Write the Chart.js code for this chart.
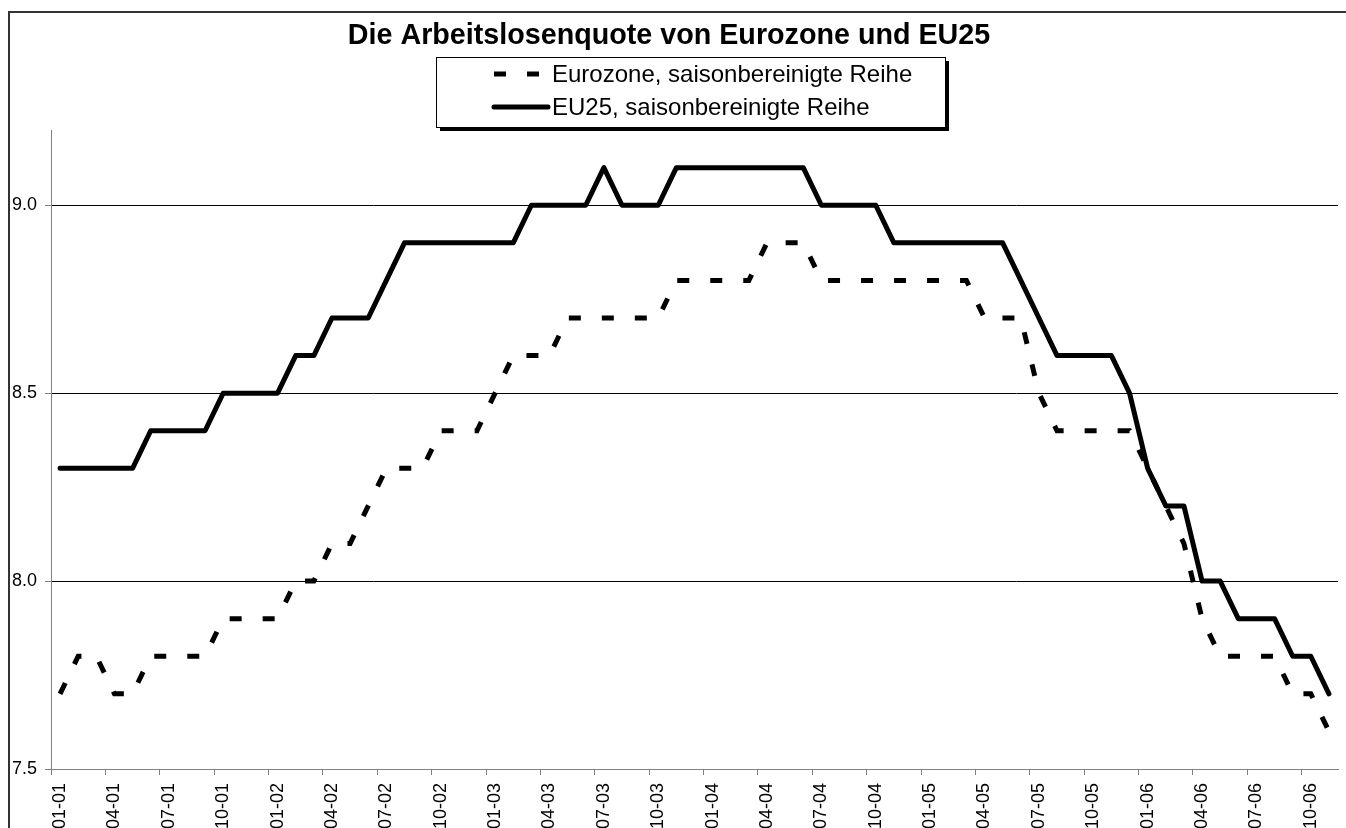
<!DOCTYPE html>
<html>
<head>
<meta charset="utf-8">
<title>Arbeitslosenquote Eurozone / EU25</title>
<script src="https://cdn.jsdelivr.net/npm/chart.js@4.4.0/dist/chart.umd.min.js"></script>
<style>
  html, body { margin: 0; padding: 0; background: #fff; }
  #chart { display: block; }
</style>
</head>
<body>
<canvas id="chart" width="1346" height="828"></canvas>
<script>
const months = [
  '01-01', '02-01', '03-01', '04-01', '05-01', '06-01', '07-01', '08-01', '09-01', '10-01', '11-01', '12-01',
  '01-02', '02-02', '03-02', '04-02', '05-02', '06-02', '07-02', '08-02', '09-02', '10-02', '11-02', '12-02',
  '01-03', '02-03', '03-03', '04-03', '05-03', '06-03', '07-03', '08-03', '09-03', '10-03', '11-03', '12-03',
  '01-04', '02-04', '03-04', '04-04', '05-04', '06-04', '07-04', '08-04', '09-04', '10-04', '11-04', '12-04',
  '01-05', '02-05', '03-05', '04-05', '05-05', '06-05', '07-05', '08-05', '09-05', '10-05', '11-05', '12-05',
  '01-06', '02-06', '03-06', '04-06', '05-06', '06-06', '07-06', '08-06', '09-06', '10-06', '11-06'
];

const eurozone = [
  7.7, 7.8, 7.8, 7.7, 7.7, 7.8, 7.8, 7.8, 7.8, 7.9,
  7.9, 7.9, 7.9, 8.0, 8.0, 8.1, 8.1, 8.2, 8.3, 8.3,
  8.3, 8.4, 8.4, 8.4, 8.5, 8.6, 8.6, 8.6, 8.7, 8.7,
  8.7, 8.7, 8.7, 8.7, 8.8, 8.8, 8.8, 8.8, 8.8, 8.9,
  8.9, 8.9, 8.8, 8.8, 8.8, 8.8, 8.8, 8.8, 8.8, 8.8,
  8.8, 8.7, 8.7, 8.7, 8.5, 8.4, 8.4, 8.4, 8.4, 8.4,
  8.3, 8.2, 8.1, 7.9, 7.8, 7.8, 7.8, 7.8, 7.7, 7.7, 7.6
];

const eu25 = [
  8.3, 8.3, 8.3, 8.3, 8.3, 8.4, 8.4, 8.4, 8.4, 8.5,
  8.5, 8.5, 8.5, 8.6, 8.6, 8.7, 8.7, 8.7, 8.8, 8.9,
  8.9, 8.9, 8.9, 8.9, 8.9, 8.9, 9.0, 9.0, 9.0, 9.0,
  9.1, 9.0, 9.0, 9.0, 9.1, 9.1, 9.1, 9.1, 9.1, 9.1,
  9.1, 9.1, 9.0, 9.0, 9.0, 9.0, 8.9, 8.9, 8.9, 8.9,
  8.9, 8.9, 8.9, 8.8, 8.7, 8.6, 8.6, 8.6, 8.6, 8.5,
  8.3, 8.2, 8.2, 8.0, 8.0, 7.9, 7.9, 7.9, 7.8, 7.8, 7.7
];

const seriesNames = ['Eurozone, saisonbereinigte Reihe', 'EU25, saisonbereinigte Reihe'];
const chartTitle = 'Die Arbeitslosenquote von Eurozone und EU25';
const yTicks = [7.5, 8.0, 8.5, 9.0];

const FONT = "'Liberation Sans', Arial, Helvetica, sans-serif";
const AXIS_GREY = '#808080';

// white background + the outer frame (only its top/left edges are inside the picture)
const framePlugin = {
    id: 'frame',
    beforeDraw: chart => {
        let ctx = chart.ctx;
        ctx.save();
        ctx.fillStyle = '#fff';
        ctx.fillRect(0, 0, chart.width, chart.height);
        ctx.strokeStyle = '#333';
        ctx.lineWidth = 2;
        ctx.strokeRect(9, 12, chart.width + 20, chart.height + 20);
        ctx.restore();
    }
};

// excel-like legend: bordered box with a drop shadow, one series per row
const boxLegend = {
    id: 'boxLegend',
    afterDraw: (chart, args, opts) => {
        let ctx = chart.ctx;
        ctx.save();
        ctx.fillStyle = '#000';
        ctx.fillRect(opts.left + 4, opts.top + 4, opts.width, opts.height);
        ctx.fillStyle = '#fff';
        ctx.fillRect(opts.left, opts.top, opts.width, opts.height);
        ctx.strokeStyle = '#000';
        ctx.lineWidth = 1;
        ctx.strokeRect(opts.left + 0.5, opts.top + 0.5, opts.width, opts.height);

        chart.data.datasets.forEach((ds, i) => {
            let y = opts.top + opts.firstRow + i * opts.rowGap;
            ctx.beginPath();
            ctx.setLineDash(ds.borderDash || []);
            ctx.lineCap = ds.borderCapStyle || 'butt';
            ctx.lineWidth = ds.borderWidth;
            ctx.strokeStyle = ds.borderColor;
            ctx.moveTo(opts.sampleX, y);
            ctx.lineTo(opts.sampleX + opts.sampleW, y);
            ctx.stroke();
            ctx.setLineDash([]);
            ctx.fillStyle = '#000';
            ctx.font = `${opts.fontSize}px ${FONT}`;
            ctx.textBaseline = 'middle';
            ctx.textAlign = 'left';
            ctx.fillText(ds.label, opts.textX, y + 1);
        });
        ctx.restore();
    }
};

const chart = new Chart(document.getElementById('chart'), {
    type: 'line',
    data: {
        labels: months,
        datasets: [{
            label: seriesNames[0],
            data: eurozone,
            borderColor: '#000',
            borderWidth: 5,
            borderDash: [12, 21],
            borderCapStyle: 'butt',
            borderJoinStyle: 'miter',
            pointRadius: 0,
            tension: 0,
            fill: false
        }, {
            label: seriesNames[1],
            data: eu25,
            borderColor: '#000',
            borderWidth: 5,
            borderCapStyle: 'round',
            borderJoinStyle: 'round',
            pointRadius: 0,
            tension: 0,
            fill: false
        }]
    },
    options: {
        responsive: false,
        animation: false,
        devicePixelRatio: 1,
        layout: {
            padding: { left: 0, right: 8, top: 0, bottom: 0 }
        },
        plugins: {
            legend: { display: false },
            tooltip: { enabled: false },
            title: {
                display: true,
                text: chartTitle,
                color: '#000',
                font: { family: FONT, size: 28.7, weight: 'bold', lineHeight: 1.2 },
                padding: { top: 19, bottom: 76.6 }
            },
            boxLegend: {
                left: 436, top: 57, width: 509, height: 70,
                firstRow: 17, rowGap: 33,
                sampleX: 494, sampleW: 54, textX: 552,
                fontSize: 24
            }
        },
        scales: {
            x: {
                offset: true,
                border: { color: AXIS_GREY, width: 1 },
                grid: {
                    offset: true,
                    drawOnChartArea: false,
                    tickLength: 6,
                    color: (ctx) => (ctx.index !== undefined && ctx.index % 3 === 0) ? AXIS_GREY : 'rgba(0,0,0,0)'
                },
                ticks: {
                    autoSkip: false,
                    minRotation: 90,
                    maxRotation: 90,
                    padding: 8,
                    color: '#000',
                    font: { family: FONT, size: 18 },
                    callback: function(value, index) {
                        return index % 3 === 0 ? this.getLabelForValue(value) : '';
                    }
                },
                afterFit: (scale) => {
                    scale.height = 59;
                    scale.paddingLeft = 0;
                    scale.paddingRight = 0;
                }
            },
            y: {
                min: yTicks[0],
                max: 9.2,
                border: { color: AXIS_GREY, width: 1 },
                grid: {
                    color: (ctx) => (ctx.tick && ctx.tick.value === yTicks[0]) ? AXIS_GREY : '#000',
                    tickColor: AXIS_GREY,
                    tickLength: 6
                },
                afterBuildTicks: (scale) => {
                    scale.ticks = yTicks.map(v => ({ value: v }));
                },
                ticks: {
                    padding: 8,
                    color: '#000',
                    font: { family: FONT, size: 18 },
                    callback: (v) => Number(v).toFixed(1)
                },
                afterFit: (scale) => {
                    scale.width = 51;
                    scale.paddingTop = 0;
                    scale.paddingBottom = 0;
                }
            }
        }
    },
    plugins: [framePlugin, boxLegend]
});
</script>
</body>
</html>
